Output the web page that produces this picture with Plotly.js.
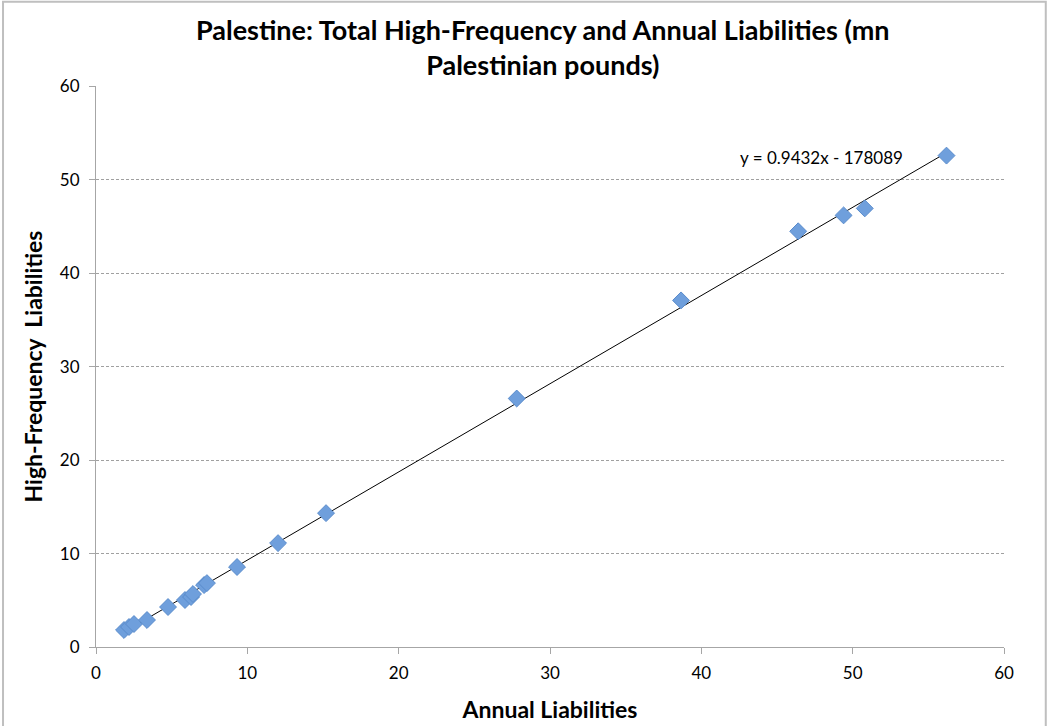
<!DOCTYPE html>
<html><head><meta charset="utf-8">
<script src="https://cdn.plot.ly/plotly-3.0.1.min.js"></script>
<style>html,body{margin:0;padding:0;background:#fff;}#chart{width:1050px;height:726px;}</style>
</head><body><div id="chart"></div>
<script>
// Annual liabilities (x) vs High-frequency liabilities (y), mn Palestinian pounds
const annualLiabilities = [1.85, 2.18, 2.51, 3.37, 4.76, 5.88, 6.28, 6.41, 7.14, 7.33, 9.32, 12.03, 15.2, 27.8, 38.66, 46.4, 49.4, 50.8, 56.2];
const highFreqLiabilities = [1.82, 2.14, 2.46, 2.89, 4.28, 5.03, 5.35, 5.67, 6.63, 6.84, 8.56, 11.12, 14.33, 26.6, 37.1, 44.5, 46.2, 46.95, 52.6];
const equationText = "y = 0.9432x - 178089";
const titleText = "Palestine: Total High-Frequency and Annual Liabilities (mn<br>Palestinian pounds)";
const xTicks = [0, 10, 20, 30, 40, 50, 60];
const yTicks = [0, 10, 20, 30, 40, 50, 60];

// least squares trendline from the data
const n = annualLiabilities.length;
const mx = annualLiabilities.reduce((a,b)=>a+b,0)/n;
const my = highFreqLiabilities.reduce((a,b)=>a+b,0)/n;
let sxy=0, sxx=0;
for (let i=0;i<n;i++){sxy+=(annualLiabilities[i]-mx)*(highFreqLiabilities[i]-my);sxx+=(annualLiabilities[i]-mx)**2;}
const slope = sxy/sxx, icpt = my - slope*mx;
const xmin = Math.min(...annualLiabilities), xmax = Math.max(...annualLiabilities);

const font = "Lato, 'Open Sans', sans-serif";
const data = [
  {x: [xmin, xmax], y: [slope*xmin+icpt, slope*xmax+icpt], mode: 'lines', type: 'scatter',
   line: {color: '#000', width: 1}, hoverinfo: 'skip', showlegend: false},
  {x: annualLiabilities, y: highFreqLiabilities, mode: 'markers', type: 'scatter',
   marker: {symbol: 'diamond', size: 13, color: '#6f9fdc', line: {color: '#5a8ccc', width: 1}}, showlegend: false}
];
const layout = {
  width: 1050, height: 726,
  paper_bgcolor: '#fff', plot_bgcolor: '#fff',
  margin: {l: 96, r: 46, t: 86, b: 79},
  font: {family: font, color: '#000', size: 17},
  xaxis: {range: [0, 60], tickvals: xTicks, showgrid: false, zeroline: false, showline: true,
          linecolor: '#a6a6a6', linewidth: 1, ticks: 'outside', ticklen: 6, tickcolor: '#a6a6a6',
          ticklabelstandoff: 5, tickfont: {size: 17, family: font}, fixedrange: true,
          title: {text: 'Annual Liabilities', font: {size: 23, family: font, weight: 'bold'}, standoff: 19}},
  yaxis: {range: [0, 60.05], tickvals: yTicks, showgrid: true, gridcolor: '#a0a0a0', griddash: '3px,2px', gridwidth: 1,
          zeroline: false, showline: true, linecolor: '#a6a6a6', linewidth: 1, ticks: 'outside', ticklen: 6,
          tickcolor: '#a6a6a6', ticklabelstandoff: 6, tickfont: {size: 17, family: font},
          title: {text: 'High-Frequency  Liabilities', font: {size: 23, family: font, weight: 'bold'}, standoff: 10}},
  annotations: [
    {x: 0.891, y: 0.873, xref: 'paper', yref: 'paper', xanchor: 'right', yanchor: 'middle',
     text: equationText, showarrow: false, font: {size: 17, family: font, color: '#000'}},
    {x: 0.492, y: 1.005, xref: 'paper', yref: 'paper', xanchor: 'center', yanchor: 'bottom',
     text: titleText, showarrow: false, font: {size: 27, family: font, color: '#000', weight: 'bold'}}
  ],
  shapes: [{type: 'rect', xref: 'paper', yref: 'paper', x0: -0.1024, x1: 1.046, y0: -0.2, y1: 1.15,
            line: {color: '#bfbfbf', width: 2}, fillcolor: 'rgba(0,0,0,0)', layer: 'below'}]
};
Plotly.newPlot('chart', data, layout, {displayModeBar: false, staticPlot: true});
</script></body></html>
